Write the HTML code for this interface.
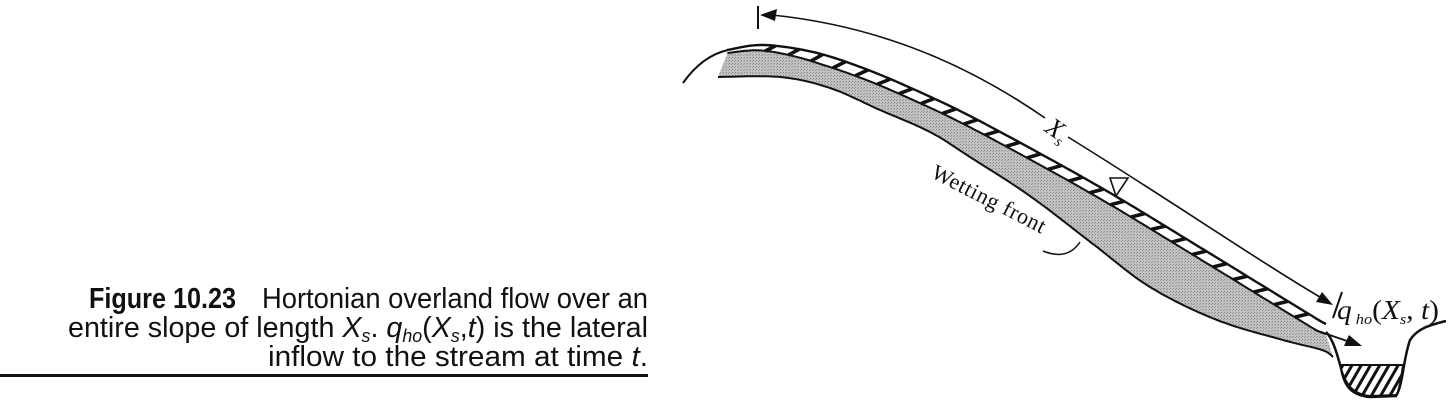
<!DOCTYPE html>
<html><head><meta charset="utf-8"><style>
html,body{margin:0;padding:0;background:#fff}
svg{display:block}
</style></head><body>
<svg id="fig" width="1453" height="403" viewBox="0 0 1453 403" xmlns="http://www.w3.org/2000/svg">
<defs>
<pattern id="grey" width="3" height="3" patternUnits="userSpaceOnUse"><rect width="3" height="3" fill="#c2c2c2"/><rect width="1" height="1" fill="#888"/><rect x="2" y="1" width="1" height="1" fill="#999"/></pattern>
<pattern id="water" width="8" height="8" patternUnits="userSpaceOnUse" patternTransform="rotate(-60)"><rect width="8" height="8" fill="#fff"/><rect width="8" height="3" fill="#111"/></pattern>
</defs>
<g font-family="'Liberation Sans',sans-serif" font-size="29" fill="#111">
<text x="89" y="308" font-weight="bold" textLength="147" lengthAdjust="spacingAndGlyphs">Figure 10.23</text>
<text x="262" y="308" textLength="386" lengthAdjust="spacingAndGlyphs">Hortonian overland flow over an</text>
<text x="68" y="337" textLength="580" lengthAdjust="spacingAndGlyphs">entire slope of length <tspan font-style="italic">X</tspan><tspan font-style="italic" font-size="18" dy="5">s</tspan><tspan dy="-5">. </tspan><tspan font-style="italic">q</tspan><tspan font-style="italic" font-size="18" dy="5">ho</tspan><tspan dy="-5">(</tspan><tspan font-style="italic">X</tspan><tspan font-style="italic" font-size="18" dy="5">s</tspan><tspan dy="-5">,</tspan><tspan font-style="italic">t</tspan>) is the lateral</text>
<text x="268" y="366" textLength="380" lengthAdjust="spacingAndGlyphs">inflow to the stream at time <tspan font-style="italic">t</tspan>.</text>
</g>
<rect x="0" y="374" width="648" height="3" fill="#111"/>
<g id="slope"></g>
<path d="M683,83 C695,66 710,54 728,50" fill="none" stroke="#111" stroke-width="2"/>
<path d="M1326,332 C1334,340 1338,358 1341,368 C1344,385 1350,395 1370,397 L1396,396 C1403,385 1403,360 1410,340 C1418,328 1430,325 1446,321" fill="none" stroke="#111" stroke-width="2.5"/>
<path d="M1340,365 L1403,365 C1401,380 1399,392 1396,395 L1370,396 C1352,394 1345,384 1340,365 Z" fill="url(#water)" stroke="#111" stroke-width="2"/>
<g fill="none" stroke="#111" stroke-width="1.6">
<line x1="758" y1="6" x2="758" y2="29" stroke-width="2"/>
<path d="M772,15 C900,28 990,80 1045,118"/>
<path d="M1068,137 C1170,200 1260,262 1325,300"/>
<line x1="1342" y1="292" x2="1333" y2="318" stroke-width="2"/>
</g>
<polygon points="760,15 777,9 775,21" fill="#111"/>
<polygon points="1333,305 1316,302 1322,292" fill="#111"/>
<text x="1046" y="137" transform="rotate(35 1055 130)" font-family="'Liberation Serif',serif" font-style="italic" font-size="26" fill="#111">X<tspan font-size="15" dy="5">s</tspan></text>
<polygon points="1110,178 1128,178 1116,196" fill="#fff" stroke="#111" stroke-width="1.6"/>
<text x="930" y="177" transform="rotate(27 930 177)" font-family="'Liberation Serif',serif" font-size="22" fill="#111" textLength="125">Wetting front</text>
<path d="M1043,251 C1060,258 1072,254 1080,242" fill="none" stroke="#111" stroke-width="1.5"/>
<text x="1337" y="319" font-family="'Liberation Serif',serif" font-size="27" fill="#111" textLength="102" lengthAdjust="spacingAndGlyphs"><tspan font-style="italic">q</tspan><tspan font-style="italic" font-size="15" dy="5"> ho</tspan><tspan dy="-5">(</tspan><tspan font-style="italic">X</tspan><tspan font-style="italic" font-size="15" dy="5">s</tspan><tspan dy="-5">, </tspan><tspan font-style="italic">t</tspan>)</text>
<line x1="1315" y1="330" x2="1350" y2="342" stroke="#111" stroke-width="1.8"/>
<polygon points="1362,346 1344,346 1349,335" fill="#111"/>
</svg>
<script>
(function(){
var NS='http://www.w3.org/2000/svg';
var g=document.getElementById('slope');
var TOP=[[727,50],[763,45],[813,52],[863,68],[913,89],[970,116],[1050,159],[1117,197],[1183,237],[1250,278],[1317,319],[1326,324]];
var WF=[[718,77],[780,77],[830,88],[880,110],[930,132],[970,157],[1030,196],[1093,244],[1150,287],[1217,320],[1283,340],[1322,350],[1333,357]];
function cr(P){var d='M'+P[0][0]+','+P[0][1];for(var i=0;i<P.length-1;i++){var p0=P[Math.max(0,i-1)],p1=P[i],p2=P[i+1],p3=P[Math.min(P.length-1,i+2)];
d+=' C'+(p1[0]+(p2[0]-p0[0])/6).toFixed(1)+','+(p1[1]+(p2[1]-p0[1])/6).toFixed(1)+' '+(p2[0]-(p3[0]-p1[0])/6).toFixed(1)+','+(p2[1]-(p3[1]-p1[1])/6).toFixed(1)+' '+p2[0]+','+p2[1];}return d;}
var tp=document.createElementNS(NS,'path');
tp.setAttribute('d',cr(TOP));tp.setAttribute('fill','none');
g.appendChild(tp);
var L=tp.getTotalLength();
var N=160,surf=[],hb=[];
for(var i=0;i<=N;i++){var s=L*i/N;var p=tp.getPointAtLength(s);var q=tp.getPointAtLength(Math.min(L,s+1));var r=tp.getPointAtLength(Math.max(0,s-1));var tx=q.x-r.x,ty=q.y-r.y;var m=Math.hypot(tx,ty)||1;tx/=m;ty/=m;var nx=-ty,ny=tx;var f=i/N;
var th=f<0.15?3+f*47:10;
surf.push([p.x,p.y]);hb.push([p.x+nx*th,p.y+ny*th]);}
function pts(a){return a.map(function(p){return p[0].toFixed(1)+','+p[1].toFixed(1);}).join(' ');}
var wp=document.createElementNS(NS,'path');wp.setAttribute('d',cr(WF));g.appendChild(wp);
var WL=wp.getTotalLength(),wf=[];for(var j=0;j<=N;j++){var pp=wp.getPointAtLength(WL*j/N);wf.push([pp.x,pp.y]);}
g.removeChild(wp);
var grey=document.createElementNS(NS,'polygon');


grey.setAttribute('points',pts(hb)+' '+pts(wf.slice().reverse()));
grey.setAttribute('fill','url(#grey)');
g.appendChild(grey);
var wl=document.createElementNS(NS,'polyline');


wl.setAttribute('points',pts(wf));wl.setAttribute('fill','none');wl.setAttribute('stroke','#111');wl.setAttribute('stroke-width','2');
g.appendChild(wl);
[surf,hb].forEach(function(a,k){var l=document.createElementNS(NS,'polyline');


l.setAttribute('points',pts(a));l.setAttribute('fill','none');l.setAttribute('stroke','#111');l.setAttribute('stroke-width',k?'2':'2.4');g.appendChild(l);});
for(var s2=45;s2<L-3;s2+=24){var p2=tp.getPointAtLength(s2);var q2=tp.getPointAtLength(s2+1),r2=tp.getPointAtLength(s2-1);var ux=q2.x-r2.x,uy=q2.y-r2.y;var mm=Math.hypot(ux,uy);ux/=mm;uy/=mm;var vx=-uy,vy=ux;
var th2=s2<L*0.15?3+(s2/L)*47:10;
var ln=document.createElementNS(NS,'line');


ln.setAttribute('x1',p2.x+ux*4);ln.setAttribute('y1',p2.y+uy*4);ln.setAttribute('x2',p2.x+vx*th2-ux*6);ln.setAttribute('y2',p2.y+vy*th2-uy*6);ln.setAttribute('stroke','#111');ln.setAttribute('stroke-width','3.6');g.appendChild(ln);}
})();
</script>
</body></html>
